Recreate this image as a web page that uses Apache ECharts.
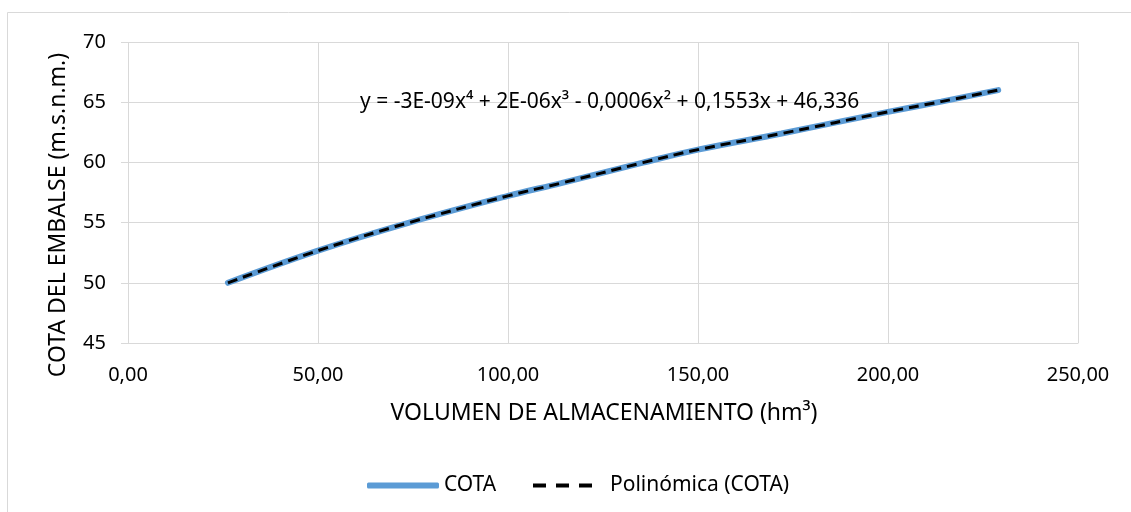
<!DOCTYPE html>
<html>
<head>
<meta charset="utf-8">
<script src="https://cdn.jsdelivr.net/npm/echarts@6/dist/echarts.min.js"></script>
<style>html,body{margin:0;padding:0;background:#fff}#c{width:1131px;height:512px}</style>
</head>
<body>
<div id="c"></div>
<script>
const volumen = [26.3, 50, 74, 100, 114, 135.5, 150, 172, 200, 214, 229];
const cota = [50.0, 52.67, 55.0, 57.22, 58.28, 59.98, 61.06, 62.4, 64.2, 65.05, 66.0];
const xTicks = [0, 50, 100, 150, 200, 250];
const yTicks = [45, 50, 55, 60, 65, 70];
const ecuacion = 'y = -3E-09x⁴ + 2E-06x³ - 0,0006x² + 0,1553x + 46,336';
const serieNombre = 'COTA';
const tendNombre = 'Polinómica (COTA)';

const pts = volumen.map((v, i) => [v, cota[i]]);
const FONT = 'Noto Sans';
const chart = echarts.init(document.getElementById('c'), null, {renderer: 'canvas'});
chart.setOption({
  backgroundColor: '#fff',
  animation: false,
  textStyle: {fontFamily: FONT},
  grid: {left: 128, right: 53, top: 42, bottom: 169, containLabel: false},
  xAxis: {
    type: 'value', min: xTicks[0], max: xTicks[xTicks.length - 1], interval: 50,
    axisLine: {show: true, lineStyle: {color: '#D9D9D9', width: 1}},
    axisTick: {show: false},
    splitLine: {show: true, lineStyle: {color: '#D9D9D9', width: 1}},
    axisLabel: {fontSize: 20, color: '#000', margin: 22, fontFamily: FONT,
      formatter: v => v.toFixed(2).replace('.', ',')}
  },
  yAxis: {
    type: 'value', min: yTicks[0], max: yTicks[yTicks.length - 1], interval: 5,
    axisLine: {show: false},
    axisTick: {show: true, length: 7, lineStyle: {color: '#D9D9D9', width: 1}},
    splitLine: {show: true, lineStyle: {color: '#D9D9D9', width: 1}},
    axisLabel: {fontSize: 20, color: '#000', margin: 22, fontFamily: FONT}
  },
  legend: [
    {data: [{name: serieNombre, icon: 'roundRect', itemStyle: {color: '#5B9BD5', borderWidth: 0}}],
      left: 362, top: 470, itemWidth: 72, itemHeight: 6,
      textStyle: {fontSize: 21, color: '#000', fontFamily: FONT}},
    {data: [{name: tendNombre, icon: 'path://M0,0h13v4h-13z M23,0h13v4h-13z M46,0h13v4h-13z',
        itemStyle: {color: '#000', borderWidth: 0}}],
      left: 528, top: 470, itemWidth: 59, itemHeight: 4,
      textStyle: {fontSize: 21, color: '#000', fontFamily: FONT, padding: [0, 0, 0, 13]}}
  ],
  series: [
    {name: serieNombre, type: 'line', data: pts, smooth: 0.4, symbol: 'none',
      lineStyle: {color: '#5B9BD5', width: 6, cap: 'round'}, itemStyle: {color: '#5B9BD5'}},
    {name: tendNombre, type: 'line', data: pts, smooth: 0.4, symbol: 'none',
      lineStyle: {color: '#000', width: 3, type: [10, 6]}, itemStyle: {color: '#000'}}
  ],
  graphic: [
    {type: 'rect', silent: true, z: -1, shape: {x: 7.5, y: 12.5, width: 1140, height: 520},
      style: {fill: 'none', stroke: '#D9D9D9', lineWidth: 1}},
    {type: 'text', x: 360, y: 102, z: 10,
      style: {text: ecuacion, fontSize: 21, fontFamily: FONT, fill: '#000',
        textAlign: 'left', textVerticalAlign: 'middle'}},
    {type: 'text', x: 604, y: 413,
      style: {text: 'VOLUMEN DE ALMACENAMIENTO (hm³)', fontSize: 23, fontFamily: FONT, fill: '#000',
        textAlign: 'center', textVerticalAlign: 'middle'}},
    {type: 'text', x: 58, y: 215, rotation: Math.PI / 2,
      style: {text: 'COTA DEL EMBALSE (m.s.n.m.)', fontSize: 23, fontFamily: FONT, fill: '#000',
        textAlign: 'center', textVerticalAlign: 'middle'}}
  ]
});
</script>
</body>
</html>
